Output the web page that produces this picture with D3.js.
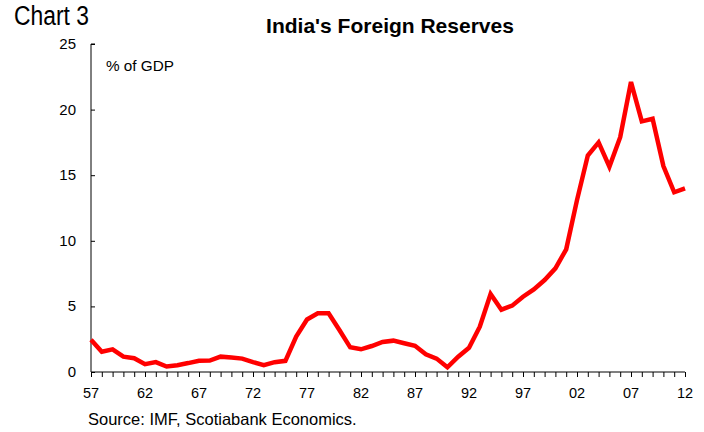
<!DOCTYPE html>
<html>
<head>
<meta charset="utf-8">
<script src="https://cdn.jsdelivr.net/npm/d3@7"></script>
<style>
  body { margin: 0; background: #fff; }
  text { font-family: "Liberation Sans", Arial, sans-serif; fill: #000; }
</style>
</head>
<body>
<div id="chart"></div>
<script>
// Data: India's foreign reserves, % of GDP, 1957-2012
const years = d3.range(1957, 2013);
const reserves = [
  2.45, 1.55, 1.73, 1.17, 1.05, 0.6, 0.75, 0.42, 0.52, 0.68,
  0.86, 0.87, 1.17, 1.1, 1.02, 0.75, 0.52, 0.75, 0.85, 2.7,
  4.0, 4.47, 4.47, 3.2, 1.88, 1.73, 1.98, 2.29, 2.39, 2.19,
  2.0, 1.35, 1.02, 0.36, 1.17, 1.85, 3.45, 5.95, 4.75, 5.06,
  5.74, 6.3, 7.01, 7.9, 9.35, 13.1, 16.5, 17.5, 15.65, 17.9,
  22.1, 19.1, 19.3, 15.7, 13.7, 14.0
];
const yTicks = [0, 5, 10, 15, 20, 25];
const xLabelYears = d3.range(1957, 2013, 5);

const data = years.map((y, i) => ({ year: y, value: reserves[i] }));

const margin = { top: 44, right: 19, bottom: 60, left: 91 },
      width = 704 - margin.left - margin.right,
      height = 432 - margin.top - margin.bottom;

const svg = d3.select("#chart")
              .append("svg")
              .attr("width", 704)
              .attr("height", 432);

const g = svg.append("g")
             .attr("transform", `translate(${margin.left},${margin.top})`);

const x = d3.scaleLinear().domain([1957, 2012]).range([0, width]);
const y = d3.scaleLinear().domain([0, 25]).range([height, 0]);

// Titles
svg.append("text")
   .attr("x", 14).attr("y", 25)
   .attr("textLength", 75)
   .attr("lengthAdjust", "spacingAndGlyphs")
   .style("font-size", "27px")
   .text("Chart 3");

svg.append("text")
   .attr("x", 390).attr("y", 33)
   .attr("text-anchor", "middle")
   .style("font-size", "21px")
   .style("font-weight", "bold")
   .text("India's Foreign Reserves");

// Y axis (ticks pointing inward)
const yAxis = g.append("g")
   .call(d3.axisRight(y).tickValues(yTicks).tickSize(4).tickFormat(""));
yAxis.select(".domain").attr("d", `M4,0H0V${height}`).attr("stroke", "#000");
yAxis.selectAll(".tick line").attr("stroke", "#000");

g.selectAll(".ylab")
 .data(yTicks)
 .join("text")
 .attr("class", "ylab")
 .attr("x", -15)
 .attr("y", d => y(d) + 5)
 .attr("text-anchor", "end")
 .style("font-size", "15px")
 .text(d => d);

// X axis with yearly minor ticks
const xAxis = g.append("g")
   .attr("transform", `translate(0,${height})`)
   .call(d3.axisBottom(x).tickValues(years).tickSize(5).tickFormat(""));
xAxis.select(".domain").attr("d", `M0,0H${width}`).attr("stroke", "#000");
xAxis.selectAll(".tick line").attr("stroke", "#000");

g.selectAll(".xlab")
 .data(xLabelYears)
 .join("text")
 .attr("class", "xlab")
 .attr("x", d => x(d))
 .attr("y", height + 26)
 .attr("text-anchor", "middle")
 .style("font-size", "14.5px")
 .text(d => String(d % 100).padStart(2, "0"));

// Unit label
g.append("text")
 .attr("x", 15).attr("y", 27)
 .style("font-size", "15.3px")
 .text("% of GDP");

// Line
const line = d3.line().x(d => x(d.year)).y(d => y(d.value));
g.append("path")
 .datum(data)
 .attr("fill", "none")
 .attr("stroke", "#ff0000")
 .attr("stroke-width", 4.5)
 .attr("stroke-linejoin", "miter")
 .attr("d", line);

// Source
svg.append("text")
   .attr("x", 88).attr("y", 425)
   .style("font-size", "16.5px")
   .text("Source: IMF, Scotiabank Economics.");
</script>
</body>
</html>
